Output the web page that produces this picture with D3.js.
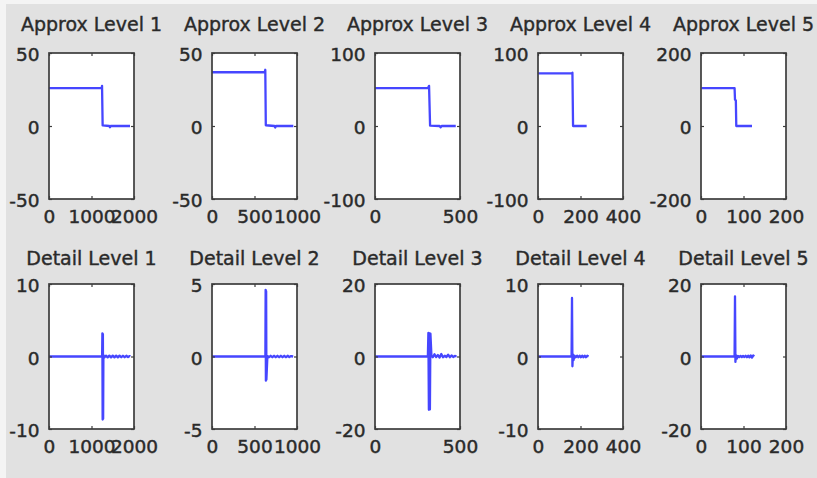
<!DOCTYPE html>
<html>
<head>
<meta charset="utf-8">
<script src="https://cdn.jsdelivr.net/npm/d3@7"></script>
<style>
  html, body { margin: 0; padding: 0; background: #ffffff; }
  svg { display: block; }
</style>
</head>
<body>
<svg id="chart" width="817" height="478"></svg>
<script>
// ---------- DATA ----------
const approxTitles = ["Approx Level 1", "Approx Level 2", "Approx Level 3", "Approx Level 4", "Approx Level 5"];
const detailTitles = ["Detail Level 1", "Detail Level 2", "Detail Level 3", "Detail Level 4", "Detail Level 5"];
const xDomainMax = [2000, 1000, 500, 400, 200];
const xTickValues = [[0, 1000, 2000], [0, 500, 1000], [0, 500], [0, 200, 400], [0, 100, 200]];
const approxYMax = [50, 50, 100, 100, 200];
const detailYMax = [10, 5, 20, 10, 20];

// Approximation coefficients (breakpoints)
const approx1X = [1, 1240, 1248, 1262, 1420, 1435, 1450, 1906];
const approx1Y = [26, 26, 27.5, 0.4, 0, -0.9, 0, 0];
const approx2X = [1, 620, 627, 633, 735, 744, 752, 957];
const approx2Y = [36.8, 36.8, 38.5, 0.5, 0, -1.0, 0, 0];
const approx3X = [1, 312, 318, 324, 380, 386, 392, 475];
const approx3Y = [52, 52, 55, 0.5, 0, -1.8, 0, 0];
const approx4X = [1, 159, 162, 165, 229];
const approx4Y = [72, 72, 73, 0, 0];
const approx5X = [1, 79, 80, 82, 83, 120];
const approx5Y = [104, 104, 72, 70, 0, 0];

// Detail coefficients
const detail1X = [1, 1250, 1256, 1262, 1268, 1274, 1280, 1306, 1340, 1380, 1420, 1460, 1500, 1540, 1580, 1620, 1660, 1700, 1740, 1780, 1820, 1860, 1900, 1910];
const detail1Y = [0, 0, 3.2, -8.7, 3.1, -8.6, 0.2, -0.12, 0.12, -0.12, 0.12, -0.12, 0.12, -0.12, 0.12, -0.12, 0.12, -0.1, 0.1, -0.1, 0.1, -0.08, 0.06, 0];
const detail2X = [1, 628, 631, 634, 637, 640, 652, 670, 690, 710, 730, 750, 770, 790, 810, 830, 850, 870, 890, 910, 930, 955];
const detail2Y = [0, 0, 4.6, -1.67, 4.5, -1.6, 0.05, -0.05, 0.05, -0.05, 0.05, -0.05, 0.05, -0.05, 0.05, -0.05, 0.05, -0.05, 0.05, -0.04, 0.03, 0];
const detail3X = [1, 311, 314, 317, 320, 323, 326, 332, 340, 350, 360, 370, 380, 390, 400, 410, 420, 430, 440, 450, 460, 470, 480];
const detail3Y = [0, 0, 6.5, -14.7, 6.4, -14.6, 6.3, 0.2, -0.2, 0.6, -0.15, 0.4, -0.3, 0.7, -0.2, 0.2, -0.15, 0.5, -0.2, 0.3, -0.15, 0.15, 0];
const detail4X = [1, 158, 160, 162, 164, 167, 172, 178, 184, 190, 196, 202, 208, 214, 220, 226, 232, 238];
const detail4Y = [0, 0, 8.07, -1.35, 0.3, -0.5, 0.12, -0.1, 0.12, -0.1, 0.12, -0.1, 0.12, -0.1, 0.12, -0.1, 0.1, 0];
const detail5X = [1, 79, 80, 81, 82, 84, 87, 90, 93, 96, 99, 102, 105, 108, 111, 114, 117, 120, 123, 125];
const detail5Y = [0, 0, 16.6, -1.5, 0.4, -0.6, 0.15, -0.15, 0.15, -0.15, 0.15, -0.15, 0.2, -0.2, 0.25, -0.25, 0.3, -0.3, 0.3, 0];

const approxSeries = [[approx1X, approx1Y], [approx2X, approx2Y], [approx3X, approx3Y], [approx4X, approx4Y], [approx5X, approx5Y]];
const detailSeries = [[detail1X, detail1Y], [detail2X, detail2Y], [detail3X, detail3Y], [detail4X, detail4Y], [detail5X, detail5Y]];

// ---------- LAYOUT ----------
const W = 817, H = 478;
const panelLeft0 = 49, panelStep = 163, panelW = 85;
const rows = [
  { top: 53, h: 146, titleY: 31, titles: approxTitles, yMax: approxYMax, series: approxSeries },
  { top: 284, h: 145, titleY: 265, titles: detailTitles, yMax: detailYMax, series: detailSeries }
];
const FONT = "'DejaVu Sans', sans-serif";
const textColor = "#2a2a2a";
const lineColor = "#4646ff";
const boxColor = "#3c3c3c";

const svg = d3.select("#chart");
svg.append("rect").attr("x", 0).attr("y", 0).attr("width", W).attr("height", H).attr("fill", "#f4f4f4");
svg.append("rect").attr("x", 6).attr("y", 4).attr("width", W - 6).attr("height", H - 4).attr("fill", "#e1e1e1");

rows.forEach(row => {
  for (let i = 0; i < 5; i++) {
    const left = panelLeft0 + i * panelStep;
    const x = d3.scaleLinear().domain([0, xDomainMax[i]]).range([left, left + panelW]);
    const y = d3.scaleLinear().domain([-row.yMax[i], row.yMax[i]]).range([row.top + row.h, row.top]);
    const g = svg.append("g");

    g.append("rect")
      .attr("x", x.range()[0]).attr("y", y.range()[1])
      .attr("width", panelW).attr("height", row.h)
      .attr("fill", "#ffffff");

    const [xs, ys] = row.series[i];
    const pts = xs.map((d, k) => [d, ys[k]]);
    g.append("path")
      .datum(pts)
      .attr("fill", "none")
      .attr("stroke", lineColor)
      .attr("stroke-width", 2.3)
      .attr("stroke-linejoin", "round")
      .attr("d", d3.line().x(d => x(d[0])).y(d => y(d[1])));

    const yTicks = [-row.yMax[i], 0, row.yMax[i]];

    const axL = g.append("g").attr("transform", `translate(${left},0)`)
      .call(d3.axisLeft(y).tickValues(yTicks).tickSizeInner(-3).tickSizeOuter(0).tickPadding(9.5).tickFormat(d => String(d)));
    const axR = g.append("g").attr("transform", `translate(${left + panelW},0)`)
      .call(d3.axisRight(y).tickValues(yTicks).tickSizeInner(-3).tickSizeOuter(0).tickFormat(""));
    const axB = g.append("g").attr("transform", `translate(0,${row.top + row.h})`)
      .call(d3.axisBottom(x).tickValues(xTickValues[i]).tickSizeInner(-3).tickSizeOuter(0).tickPadding(11).tickFormat(d => String(d)));
    const axT = g.append("g").attr("transform", `translate(0,${row.top})`)
      .call(d3.axisTop(x).tickValues(xTickValues[i]).tickSizeInner(-3).tickSizeOuter(0).tickFormat(""));

    [axL, axR, axB, axT].forEach(a => {
      a.select(".domain").remove();
      a.selectAll(".tick line").attr("stroke", boxColor).attr("stroke-width", 1.2);
      a.selectAll(".tick text")
        .attr("fill", textColor)
        .attr("stroke", textColor)
        .attr("stroke-width", 0.45)
        .style("font-family", FONT)
        .style("font-size", "18.5px");
    });
    axL.selectAll(".tick text").attr("dy", "0.42em");

    g.append("rect")
      .attr("x", x.range()[0]).attr("y", y.range()[1])
      .attr("width", panelW).attr("height", row.h)
      .attr("fill", "none")
      .attr("stroke", boxColor)
      .attr("stroke-width", 1.7);

    g.append("text")
      .attr("x", left + panelW / 2)
      .attr("y", row.titleY)
      .attr("text-anchor", "middle")
      .attr("fill", textColor)
      .attr("stroke", textColor)
      .attr("stroke-width", 0.4)
      .style("font-family", FONT)
      .style("font-size", "19px")
      .text(row.titles[i]);
  }
});
</script>
</body>
</html>
